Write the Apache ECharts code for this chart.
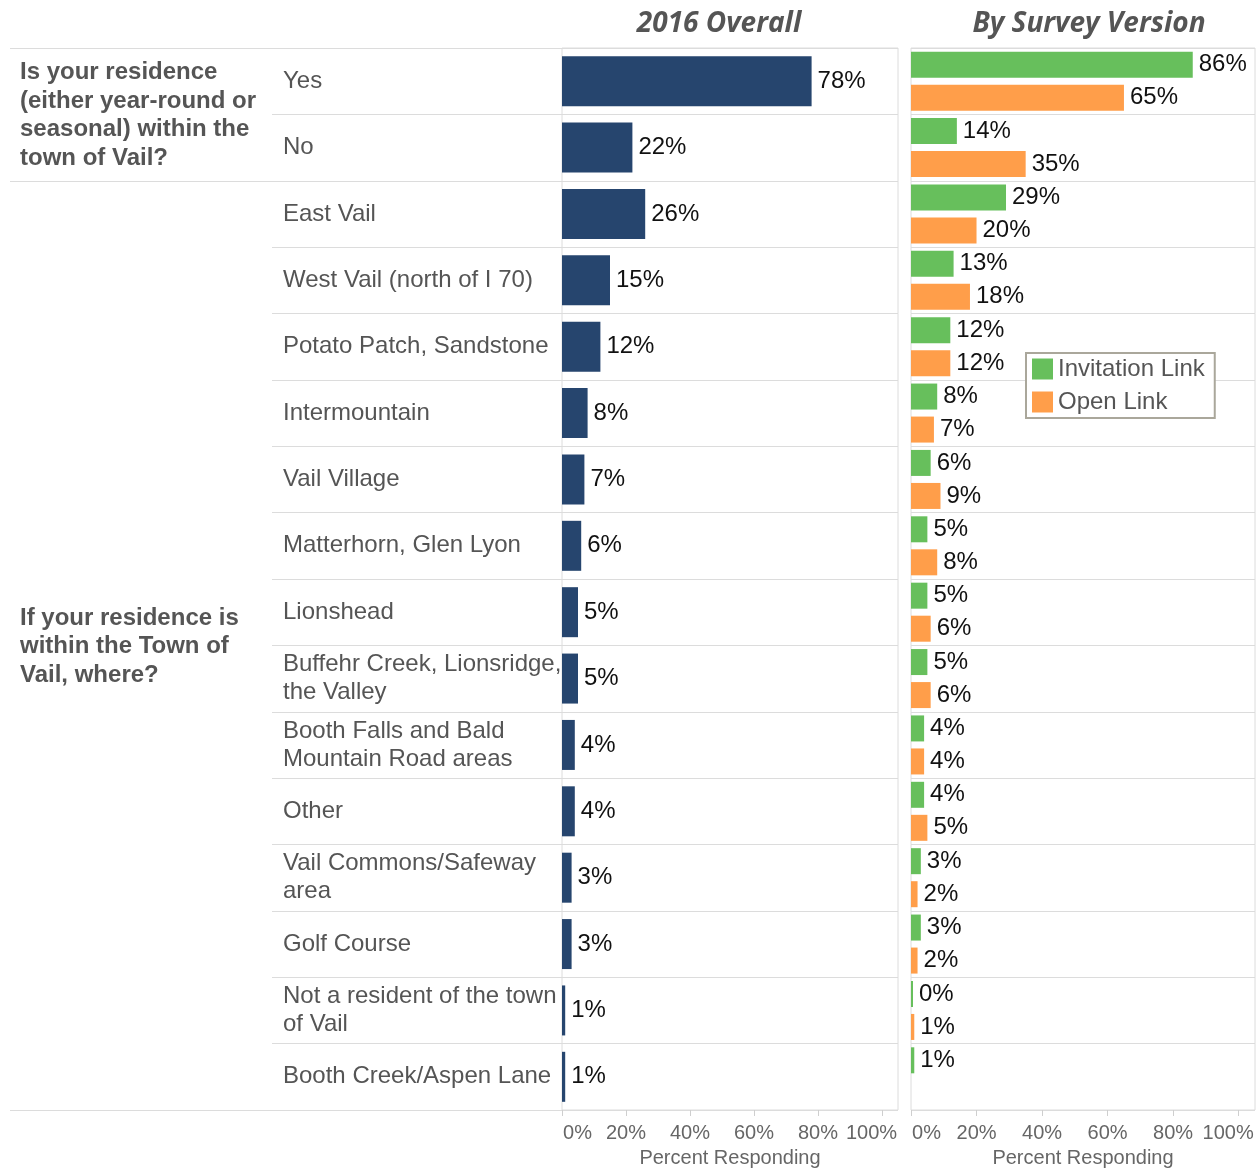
<!DOCTYPE html>
<html>
<head>
<meta charset="utf-8">
<title>Residence within the Town of Vail</title>
<script src="https://cdn.jsdelivr.net/npm/echarts@6/dist/echarts.min.js"></script>
<style>
  html, body { margin: 0; padding: 0; background: #ffffff; }
  #chart { width: 1259px; height: 1169px; }
</style>
</head>
<body>
<div id="chart"></div>
<script>
// Answer categories, top to bottom
const categories = [
  'Yes',
  'No',
  'East Vail',
  'West Vail (north of I 70)',
  'Potato Patch, Sandstone',
  'Intermountain',
  'Vail Village',
  'Matterhorn, Glen Lyon',
  'Lionshead',
  'Buffehr Creek, Lionsridge,\nthe Valley',
  'Booth Falls and Bald\nMountain Road areas',
  'Other',
  'Vail Commons/Safeway\narea',
  'Golf Course',
  'Not a resident of the town\nof Vail',
  'Booth Creek/Aspen Lane'
];

// Percent responding, 2016 overall
const overall = [78, 22, 26, 15, 12, 8, 7, 6, 5, 5, 4, 4, 3, 3, 1, 1];

// Percent responding by survey version
const invitationLink = [86, 14, 29, 13, 12, 8, 6, 5, 5, 5, 4, 4, 3, 3, 0, 1];
const openLink = [65, 35, 20, 18, 12, 7, 9, 8, 6, 6, 4, 5, 2, 2, 1, null];

// Question groups and how many answer rows each spans
const questions = [
  { text: 'Is your residence\n(either year-round or\nseasonal) within the\ntown of Vail?', rows: 2 },
  { text: 'If your residence is\nwithin the Town of\nVail, where?', rows: 14 }
];

const seriesNames = ['Invitation Link', 'Open Link'];
const tickValues = [0, 20, 40, 60, 80, 100];
const panelTitles = ['2016 Overall', 'By Survey Version'];
const axisTitle = 'Percent Responding';

// ---- layout ----
const FONT = '"Liberation Sans", Arial, sans-serif';
const TOP = 48, BOTTOM = 1110;
const PLOT_H = BOTTOM - TOP;
const ROW_H = PLOT_H / categories.length;
const LINE = '#dcdcdc';
const GRAY = '#555555';
const TEXT_SIZE = 24;

const LABEL_L = 272, LEFT_L = 562, LEFT_W = 336, RIGHT_L = 911, RIGHT_W = 344;

const chart = echarts.init(document.getElementById('chart'), null, { renderer: 'canvas' });

function tickLabel(v) {
  if (v === 0) return '{first|0%}';
  if (v === 100) return '{last|100%}';
  return v + '%';
}
const tickRich = {
  first: { padding: [0, 0, 0, 31], fontSize: 20, color: '#666', fontFamily: FONT },
  last: { padding: [0, 21, 0, 0], fontSize: 20, color: '#666', fontFamily: FONT }
};

function valueAxis(gridIndex) {
  return {
    type: 'value', gridIndex: gridIndex, min: 0, max: 105,
    axisLine: { show: false },
    axisTick: { show: true, customValues: tickValues, length: 6, lineStyle: { color: '#cfcfcf' } },
    axisLabel: {
      customValues: tickValues, formatter: tickLabel, rich: tickRich,
      color: '#666', fontSize: 20, fontFamily: FONT, margin: 13
    },
    splitLine: { show: false },
    name: axisTitle, nameLocation: 'middle', nameGap: 38,
    nameTextStyle: { color: '#666', fontSize: 20, fontFamily: FONT }
  };
}

function categoryAxis(gridIndex, withLabels) {
  return {
    type: 'category', gridIndex: gridIndex, data: categories, inverse: true,
    axisLine: { show: false }, axisTick: { show: false },
    axisLabel: withLabels ? {
      show: true, inside: true, align: 'left', margin: 11,
      color: GRAY, fontSize: TEXT_SIZE, lineHeight: 28, fontFamily: FONT
    } : { show: false },
    splitLine: { show: true, lineStyle: { color: LINE, width: 1 } }
  };
}

const valueLabel = {
  show: true, position: 'right', distance: 6,
  formatter: p => (p.value == null ? '' : p.value + '%'),
  color: '#111', fontSize: TEXT_SIZE, fontFamily: FONT
};

// Question texts and the separators of the question column
const graphics = [];
let rowStart = 0;
questions.forEach(q => {
  const y0 = TOP + rowStart * ROW_H;
  const y1 = TOP + (rowStart + q.rows) * ROW_H;
  graphics.push({
    type: 'text', left: 20, top: (y0 + y1) / 2 - q.text.split('\n').length * 28.5 / 2 + 1,
    style: { text: q.text, fill: GRAY, font: 'bold ' + TEXT_SIZE + 'px ' + FONT, lineHeight: 28.5 }
  });
  rowStart += q.rows;
});
[0, questions[0].rows, categories.length].forEach(r => {
  const y = Math.round(TOP + r * ROW_H) + 0.5;
  graphics.push({
    type: 'line', shape: { x1: 10, y1: y, x2: LABEL_L, y2: y },
    style: { stroke: LINE, lineWidth: 1 }
  });
});

const titleStyle = {
  fontFamily: '"Open Sans", sans-serif', fontStyle: 'italic', fontWeight: 'bold',
  fontSize: 28, color: GRAY
};

function panelGrid(left, width, bordered) {
  return {
    left: left, top: TOP, width: width, height: PLOT_H,
    outerBoundsMode: 'none', containLabel: false,
    show: bordered, borderColor: LINE, borderWidth: 1
  };
}

const option = {
  backgroundColor: '#ffffff',
  animation: false,
  textStyle: { fontFamily: FONT },
  title: [
    { text: panelTitles[0], left: 714, top: 5, textAlign: 'center', textStyle: titleStyle },
    { text: panelTitles[1], left: 1084, top: 5, textAlign: 'center', textStyle: titleStyle }
  ],
  legend: {
    data: seriesNames, orient: 'vertical', left: 1026, top: 353,
    icon: 'rect', itemWidth: 21, itemHeight: 21, itemGap: 9,
    padding: [4, 10, 4, 6],
    backgroundColor: '#ffffff', borderColor: '#aaa79b', borderWidth: 2,
    textStyle: { color: GRAY, fontSize: TEXT_SIZE, fontFamily: FONT }
  },
  grid: [
    panelGrid(LABEL_L, LEFT_L - LABEL_L, false),
    panelGrid(LEFT_L, LEFT_W, true),
    panelGrid(RIGHT_L, RIGHT_W, true)
  ],
  xAxis: [
    { type: 'value', gridIndex: 0, min: 0, max: 1, show: false },
    valueAxis(1),
    valueAxis(2)
  ],
  yAxis: [
    categoryAxis(0, true),
    categoryAxis(1, false),
    categoryAxis(2, false)
  ],
  series: [
    {
      name: 'Overall', type: 'bar', xAxisIndex: 1, yAxisIndex: 1,
      data: overall, barWidth: 50, itemStyle: { color: '#26456e' }, label: valueLabel
    },
    {
      name: seriesNames[0], type: 'bar', xAxisIndex: 2, yAxisIndex: 2,
      data: invitationLink, barWidth: 26, barGap: '27%', barMinHeight: 2,
      itemStyle: { color: '#67bf5c' }, label: valueLabel
    },
    {
      name: seriesNames[1], type: 'bar', xAxisIndex: 2, yAxisIndex: 2,
      data: openLink, barWidth: 26, barGap: '27%',
      itemStyle: { color: '#ff9e4a' }, label: valueLabel
    }
  ],
  graphic: graphics
};

chart.setOption(option);
</script>
</body>
</html>
